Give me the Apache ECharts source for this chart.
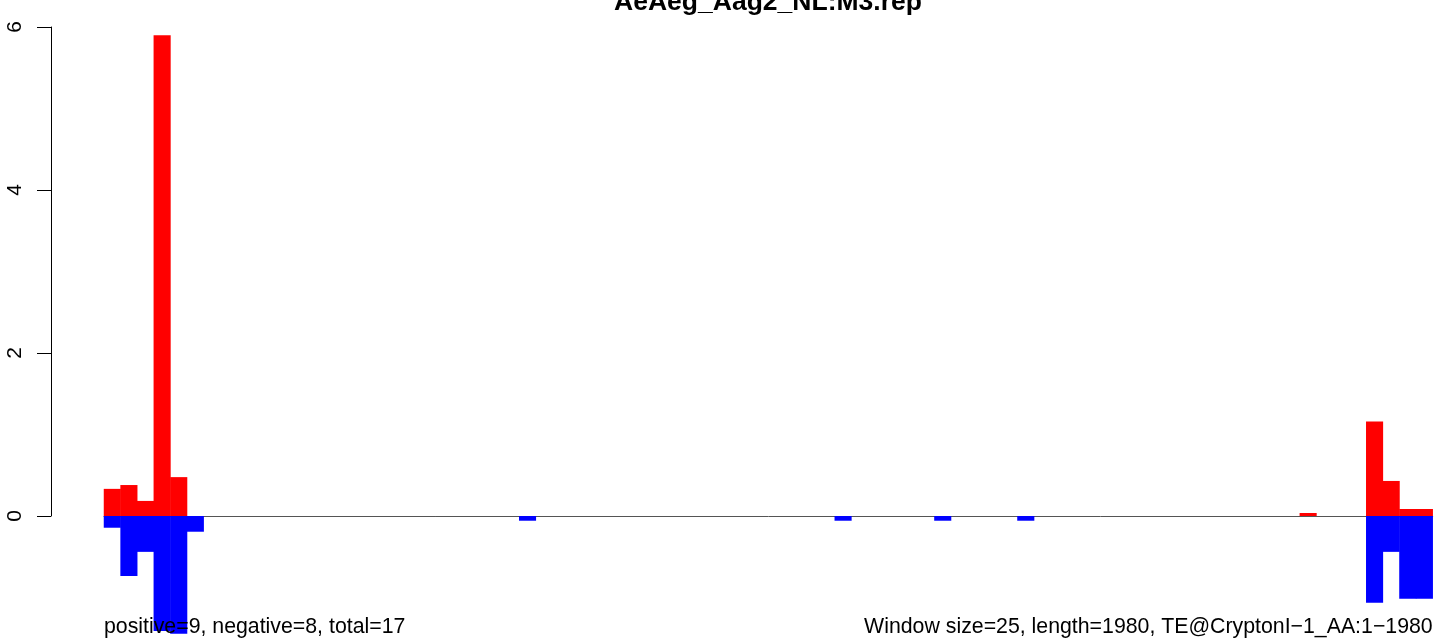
<!DOCTYPE html>
<html>
<head>
<meta charset="utf-8">
<script src="https://cdn.jsdelivr.net/npm/echarts@6/dist/echarts.min.js"></script>
<style>html,body{margin:0;padding:0;background:#fff;}#chart{width:1441px;height:641px;}</style>
</head>
<body>
<div id="chart"></div>
<script>
// window start positions (window size 25)
const windowStarts = [1,26,51,76,101,126,151,176,201,226,251,276,301,326,351,376,401,426,451,476,
  501,526,551,576,601,626,651,676,701,726,751,776,801,826,851,876,901,926,951,976,
  1001,1026,1051,1076,1101,1126,1151,1176,1201,1226,1251,1276,1301,1326,1351,1376,1401,1426,1451,1476,
  1501,1526,1551,1576,1601,1626,1651,1676,1701,1726,1751,1776,1801,1826,1851,1876,1901,1926,1951,1976];
const positiveValues = [0.333,0.38,0.185,5.90,0.477,0,0,0,0,0,0,0,0,0,0,0,0,0,0,0,
  0,0,0,0,0,0,0,0,0,0,0,0,0,0,0,0,0,0,0,0,
  0,0,0,0,0,0,0,0,0,0,0,0,0,0,0,0,0,0,0,0,
  0,0,0,0,0,0,0,0,0,0,0,0,0.037,0,0,0,1.158,0.43,0.086,0.086];
const negativeValues = [-0.144,-0.735,-0.44,-1.41,-1.445,-0.193,0,0,0,0,0,0,0,0,0,0,0,0,0,0,
  0,0,0,0,0,-0.058,0,0,0,0,0,0,0,0,0,0,0,0,0,0,
  0,0,0,0,-0.058,0,0,0,0,0,-0.058,0,0,0,0,-0.058,0,0,0,0,
  0,0,0,0,0,0,0,0,0,0,0,0,0,0,0,0,-1.063,-0.44,-1.014,-1.014];
const yTicks = [0, 2, 4, 6];
const titleText = 'AeAeg_Aag2_NL:M3.rep';
const leftNote = 'positive=9, negative=8, total=17';
const rightNote = 'Window size=25, length=1980, TE@CryptonI\u22121_AA:1\u22121980';

// empty windows draw nothing
const nz = v => (v === 0 ? '-' : v);

const chart = echarts.init(document.getElementById('chart'), null, {renderer: 'canvas'});
const font = 'Liberation Sans, Arial, Helvetica, sans-serif';
chart.setOption({
  animation: false,
  backgroundColor: '#ffffff',
  grid: {left: 104, right: 8.3, top: 27, bottom: 125, containLabel: false},
  xAxis: {
    type: 'category', data: windowStarts, boundaryGap: true,
    axisLine: {show: true, onZero: false, lineStyle: {color: '#555555', width: 1}},
    axisTick: {show: false}, axisLabel: {show: false}, splitLine: {show: false}
  },
  yAxis: {
    type: 'value', min: yTicks[0], max: yTicks[yTicks.length - 1], interval: 2,
    offset: 53,
    axisLine: {show: true, lineStyle: {color: '#000', width: 1}},
    axisTick: {show: true, length: 14, lineStyle: {color: '#000', width: 1}},
    axisLabel: {show: true, rotate: 90, margin: 25, color: '#000', fontSize: 21, fontFamily: font},
    splitLine: {show: false}
  },
  series: [
    {type: 'bar', data: positiveValues.map(nz), barWidth: '103%', barGap: '-100%', clip: false,
     itemStyle: {color: '#ff0000'}},
    {type: 'bar', data: negativeValues.map(nz), barWidth: '103%', barGap: '-100%', clip: false,
     itemStyle: {color: '#0000ff'}}
  ],
  graphic: [
    {type: 'text', z: 100, x: 768, y: 3, style: {text: titleText, align: 'center', verticalAlign: 'middle',
      font: 'bold 26.5px ' + font, fill: '#000'}},
    {type: 'text', z: 100, x: 104, y: 627, style: {text: leftNote, align: 'left', verticalAlign: 'middle',
      font: '21.3px ' + font, fill: '#000'}},
    {type: 'text', z: 100, x: 1432.7, y: 627, style: {text: rightNote, align: 'right', verticalAlign: 'middle',
      font: '21.3px ' + font, fill: '#000'}}
  ]
});
</script>
</body>
</html>
